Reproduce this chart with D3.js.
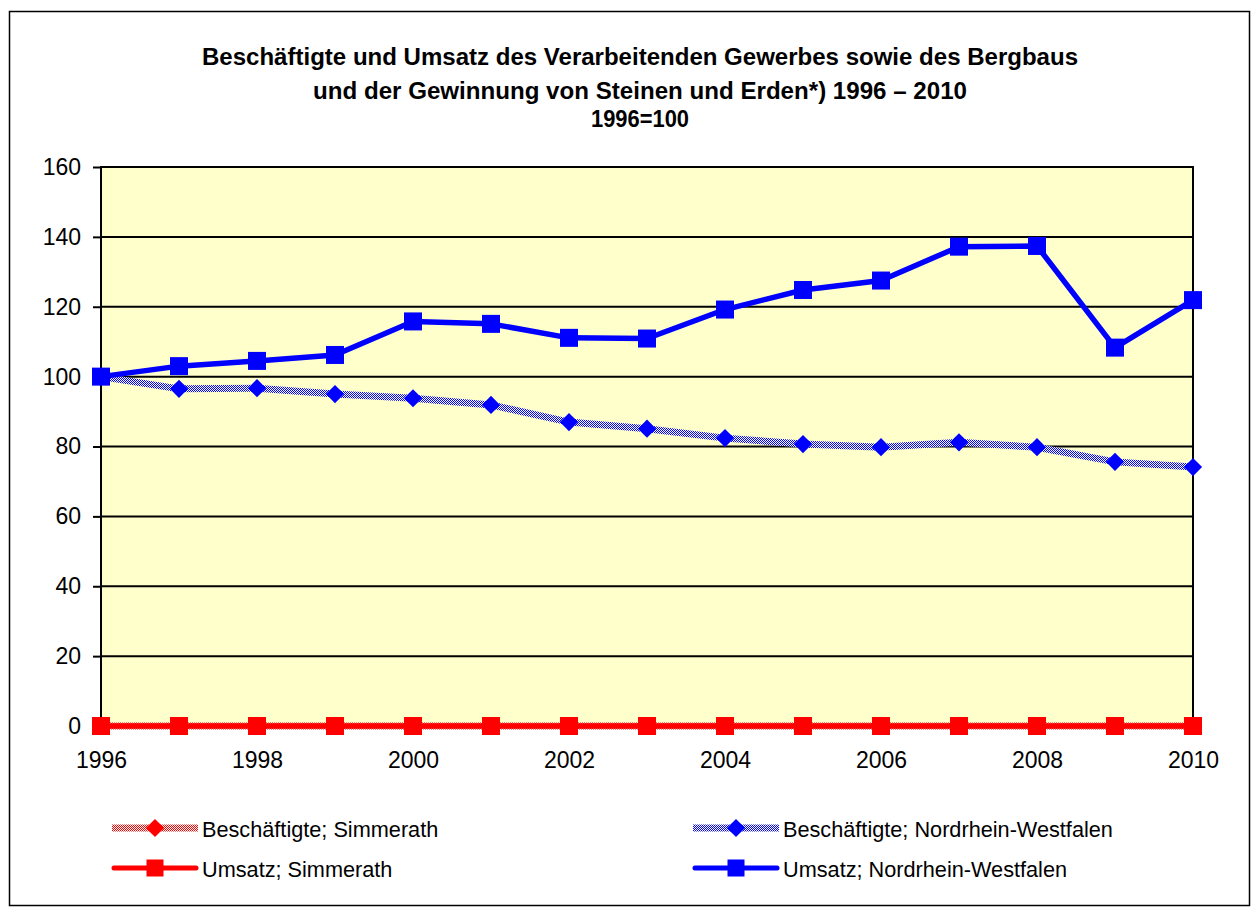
<!DOCTYPE html>
<html><head><meta charset="utf-8">
<script src="https://cdnjs.cloudflare.com/ajax/libs/d3/7.8.5/d3.min.js"></script>
<style>body{margin:0;background:#fff}svg{display:block}text{font-family:Arial,"Liberation Sans",sans-serif}</style>
</head><body>
<svg id="chart" width="1253" height="911"></svg>
<script>
const years = [1996,1997,1998,1999,2000,2001,2002,2003,2004,2005,2006,2007,2008,2009,2010];
const xTickLabels = [1996,1998,2000,2002,2004,2006,2008,2010];
const yTickLabels = [0,20,40,60,80,100,120,140,160];
const beschSimmerath = [0,0,0,0,0,0,0,0,0,0,0,0,0,0,0];
const beschNRW = [100,96.5,96.7,95.0,93.8,91.9,87.0,85.1,82.4,80.7,79.8,81.2,79.8,75.6,74.1];
const umsatzSimmerath = [0,0,0,0,0,0,0,0,0,0,0,0,0,0,0];
const umsatzNRW = [100,103.0,104.5,106.2,115.8,115.1,111.1,110.9,119.2,124.8,127.5,137.2,137.4,108.3,121.9];
const titleLines = ["Beschäftigte und Umsatz des Verarbeitenden Gewerbes sowie des Bergbaus","und der Gewinnung von Steinen und Erden*) 1996 – 2010","1996=100"];
const seriesNames = ["Beschäftigte; Simmerath","Beschäftigte; Nordrhein-Westfalen","Umsatz; Simmerath","Umsatz; Nordrhein-Westfalen"];

const svg = d3.select("#chart");
const defs = svg.append("defs");
function checker(id, c){
  const p = defs.append("pattern").attr("id",id).attr("patternUnits","userSpaceOnUse").attr("width",2).attr("height",2);
  p.append("rect").attr("width",2).attr("height",2).attr("fill","#fff");
  p.append("rect").attr("width",1).attr("height",1).attr("fill",c);
  p.append("rect").attr("x",1).attr("y",1).attr("width",1).attr("height",1).attr("fill",c);
}
checker("patBlue","#0000FF");
checker("patRed","#FF0000");

// outer frame
svg.append("rect").attr("x",9.5).attr("y",11.5).attr("width",1240).attr("height",894).attr("fill","#fff").attr("stroke","#000").attr("stroke-width",1.5);

const L=101, R=1193, T=167, B=726;
const x = d3.scaleLinear().domain([1996,2010]).range([L,R]);
const y = d3.scaleLinear().domain([0,160]).range([B,T]);

svg.append("rect").attr("x",L).attr("y",T).attr("width",R-L).attr("height",B-T).attr("fill","#FFFFCC");

// gridlines
svg.append("g").selectAll("line").data(yTickLabels).join("line")
  .attr("x1",L).attr("x2",R).attr("y1",d=>y(d)).attr("y2",d=>y(d)).attr("stroke","#000").attr("stroke-width",2);
// plot border
svg.append("rect").attr("x",L).attr("y",T).attr("width",R-L).attr("height",B-T).attr("fill","none").attr("stroke","#000").attr("stroke-width",2);

// y axis
const yAxis = d3.axisLeft(y).tickValues(yTickLabels).tickSize(8).tickPadding(12).tickFormat(d3.format("d"));
const gy = svg.append("g").attr("transform",`translate(${L},0)`).call(yAxis);
gy.select(".domain").remove();
gy.selectAll("line").attr("stroke","#000").attr("stroke-width",2);
gy.selectAll("text").attr("font-size",23).attr("fill","#000").style("font-family","Arial, 'Liberation Sans', sans-serif");

// x axis
const xAxis = d3.axisBottom(x).tickValues(xTickLabels).tickSize(0).tickPadding(26).tickFormat(d3.format("d"));
const gx = svg.append("g").attr("transform",`translate(0,${B})`).call(xAxis);
gx.select(".domain").remove();
gx.selectAll("text").attr("font-size",23).attr("fill","#000").style("font-family","Arial, 'Liberation Sans', sans-serif");

// title
const titleY = [65,99,127], titleW = [876,654,98];
svg.append("g").selectAll("text").data(titleLines).join("text")
  .attr("x",640).attr("y",(d,i)=>titleY[i]).attr("text-anchor","middle")
  .attr("font-size",23.5).attr("font-weight","bold")
  .attr("textLength",(d,i)=>titleW[i]).attr("lengthAdjust","spacingAndGlyphs").text(d=>d);

const line = d3.line().x((d,i)=>x(years[i])).y(d=>y(d));
const diamondPath = d3.symbol().type(d3.symbolSquare).size(165)();

function drawSeries(vals, kind, color, pat){
  const g = svg.append("g");
  if(kind==="besch"){
    g.append("path").attr("d",line(vals)).attr("fill","none").attr("stroke",pat).attr("stroke-width",7);
    g.selectAll("path.m").data(vals).join("path").attr("class","m")
      .attr("d",diamondPath)
      .attr("transform",(d,i)=>`translate(${x(years[i])},${y(d)}) rotate(45)`).attr("fill",color);
  } else {
    g.append("path").attr("d",line(vals)).attr("fill","none").attr("stroke",color).attr("stroke-width",5.5).attr("stroke-linejoin","round");
    g.selectAll("rect").data(vals).join("rect")
      .attr("x",(d,i)=>x(years[i])-9).attr("y",d=>y(d)-9).attr("width",18).attr("height",18).attr("fill",color);
  }
}
drawSeries(beschSimmerath,"besch","#FF0000","url(#patRed)");
drawSeries(beschNRW,"besch","#0000FF","url(#patBlue)");
drawSeries(umsatzSimmerath,"ums","#FF0000",null);
drawSeries(umsatzNRW,"ums","#0000FF",null);

// legend
const legendItems = [
  {name:seriesNames[0],kind:"besch",color:"#FF0000",pat:"url(#patRed)",x:112,y:828},
  {name:seriesNames[1],kind:"besch",color:"#0000FF",pat:"url(#patBlue)",x:693,y:828},
  {name:seriesNames[2],kind:"ums",color:"#FF0000",x:112,y:868},
  {name:seriesNames[3],kind:"ums",color:"#0000FF",x:693,y:868}
];
const lg = svg.append("g").selectAll("g").data(legendItems).join("g").attr("transform",d=>`translate(${d.x},${d.y})`);
lg.each(function(d){
  const g = d3.select(this);
  if(d.kind==="besch"){
    g.append("rect").attr("x",0).attr("y",-3.5).attr("width",86).attr("height",7).attr("fill",d.pat);
    g.append("path").attr("d",diamondPath).attr("transform","translate(43,0) rotate(45)").attr("fill",d.color);
  } else {
    g.append("line").attr("x1",2).attr("x2",84).attr("y1",0).attr("y2",0).attr("stroke",d.color).attr("stroke-width",5).attr("stroke-linecap","round");
    g.append("rect").attr("x",34.5).attr("y",-8.5).attr("width",17).attr("height",17).attr("fill",d.color);
  }
  g.append("text").attr("x",90).attr("y",8.5).attr("font-size",21.7).attr("fill","#000").text(d.name);
});
</script>
</body></html>
